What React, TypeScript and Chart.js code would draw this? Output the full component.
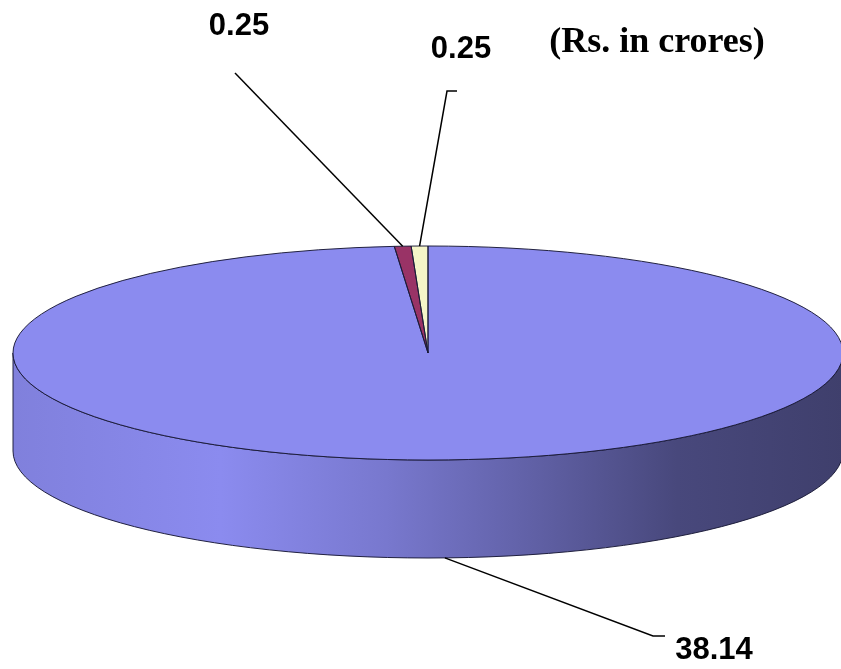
import React, { useEffect, useRef } from 'react';
import { Chart, registerables } from 'chart.js';

Chart.register(...registerables);

// ---- data ----
const categories = ['Category 1', 'Category 2', 'Category 3'];
const values = [38.14, 0.25, 0.25];
const valueLabels = ['38.14', '0.25', '0.25'];
const sliceColors = ['#8B8BEF', '#993366', '#F5F5C8'];
const chartTitle = '(Rs. in crores)';

// ---- layout ----
const W = 841;
const H = 669;
const CX = 428;
const CY = 353;
const RX = 415;
const RY = 107;
const DEPTH = 98;
const OUTLINE = 'rgba(25,25,55,0.95)';
// label text centre + leader elbow points (from label towards slice)
const labelLayout: { text: [number, number]; pts: [number, number][] }[] = [
  { text: [714, 650], pts: [[665, 636], [653, 636]] },
  { text: [239, 26], pts: [[235, 73]] },
  { text: [461, 49], pts: [[457, 91], [447, 91]] },
];
const SIDE_SHADE: [number, number][] = [
  [0, 0.92],
  [0.25, 1.0],
  [0.45, 0.86],
  [0.6, 0.72],
  [0.8, 0.52],
  [1, 0.45],
];

function shade(hex: string, f: number): string {
  const n = parseInt(hex.slice(1), 16);
  const r = Math.min(255, Math.round(((n >> 16) & 255) * f));
  const g = Math.min(255, Math.round(((n >> 8) & 255) * f));
  const b = Math.min(255, Math.round((n & 255) * f));
  return `rgb(${r},${g},${b})`;
}

let transformed = false;

const pie3d = {
  id: 'pie3d',
  beforeDatasetsDraw(chart: any) {
    const ctx = chart.ctx as CanvasRenderingContext2D;
    const arcs = chart.getDatasetMeta(0).data;
    if (!arcs.length) return;
    arcs.forEach((arc: any, i: number) => {
      const { startAngle, endAngle } = arc.getProps(['startAngle', 'endAngle'], true);
      const a = Math.max(startAngle, 0);
      const b = Math.min(endAngle, Math.PI);
      if (b <= a) return;
      const grad = ctx.createLinearGradient(CX - RX, 0, CX + RX, 0);
      SIDE_SHADE.forEach(([s, f]) => grad.addColorStop(s, shade(sliceColors[i], f)));
      ctx.beginPath();
      ctx.ellipse(CX, CY, RX, RY, 0, a, b, false);
      ctx.lineTo(CX + RX * Math.cos(b), CY + RY * Math.sin(b) + DEPTH);
      ctx.ellipse(CX, CY + DEPTH, RX, RY, 0, b, a, true);
      ctx.closePath();
      ctx.fillStyle = grad;
      ctx.fill();
      ctx.strokeStyle = OUTLINE;
      ctx.lineWidth = 1;
      ctx.stroke();
    });
    const { x, y, outerRadius } = arcs[0].getProps(['x', 'y', 'outerRadius'], true);
    ctx.save();
    ctx.translate(CX, CY);
    ctx.scale(RX / outerRadius, RY / outerRadius);
    ctx.translate(-x, -y);
    transformed = true;
  },
  afterDatasetsDraw(chart: any) {
    const ctx = chart.ctx as CanvasRenderingContext2D;
    if (transformed) {
      ctx.restore();
      transformed = false;
    }
    const arcs = chart.getDatasetMeta(0).data;
    // slice outlines on the top face
    arcs.forEach((arc: any) => {
      const { startAngle, endAngle } = arc.getProps(['startAngle', 'endAngle'], true);
      ctx.beginPath();
      ctx.moveTo(CX, CY);
      ctx.ellipse(CX, CY, RX, RY, 0, startAngle, endAngle, false);
      ctx.closePath();
      ctx.strokeStyle = OUTLINE;
      ctx.lineWidth = 1;
      ctx.stroke();
    });
    // labels with leader lines
    arcs.forEach((arc: any, i: number) => {
      const { startAngle, endAngle } = arc.getProps(['startAngle', 'endAngle'], true);
      const m = (startAngle + endAngle) / 2;
      const ax = CX + RX * Math.cos(m);
      let ay = CY + RY * Math.sin(m);
      if (Math.sin(m) > 0) ay += DEPTH;
      const lay = labelLayout[i];
      ctx.beginPath();
      ctx.moveTo(lay.pts[0][0], lay.pts[0][1]);
      for (let k = 1; k < lay.pts.length; k++) ctx.lineTo(lay.pts[k][0], lay.pts[k][1]);
      ctx.lineTo(ax, ay);
      ctx.strokeStyle = '#000';
      ctx.lineWidth = 1.5;
      ctx.stroke();
      ctx.fillStyle = '#000';
      ctx.font = 'bold 31px "Liberation Sans", Arial, sans-serif';
      ctx.textAlign = 'center';
      ctx.textBaseline = 'middle';
      ctx.fillText(valueLabels[i], lay.text[0], lay.text[1]);
    });
    // title
    ctx.font = 'bold 36px "Liberation Serif", "Times New Roman", serif';
    ctx.textAlign = 'center';
    ctx.textBaseline = 'middle';
    ctx.fillStyle = '#000';
    ctx.fillText(chartTitle, 657, 43);
  },
};

export default function App() {
  const ref = useRef<HTMLCanvasElement | null>(null);
  useEffect(() => {
    if (!ref.current) return;
    const chart = new Chart(ref.current, {
      type: 'pie',
      data: {
        labels: categories,
        datasets: [
          {
            data: values,
            backgroundColor: sliceColors,
            borderWidth: 0,
          },
        ],
      },
      options: {
        responsive: false,
        animation: false,
        events: [],
        layout: { padding: 0 },
        plugins: {
          legend: { display: false },
          tooltip: { enabled: false },
          title: { display: false },
        },
      },
      plugins: [pie3d],
    });
    return () => chart.destroy();
  }, []);
  return (
    <div style={{ position: 'absolute', left: 0, top: 0, width: W, height: H, background: '#fff' }}>
      <canvas ref={ref} width={W} height={H} style={{ display: 'block' }} />
    </div>
  );
}
